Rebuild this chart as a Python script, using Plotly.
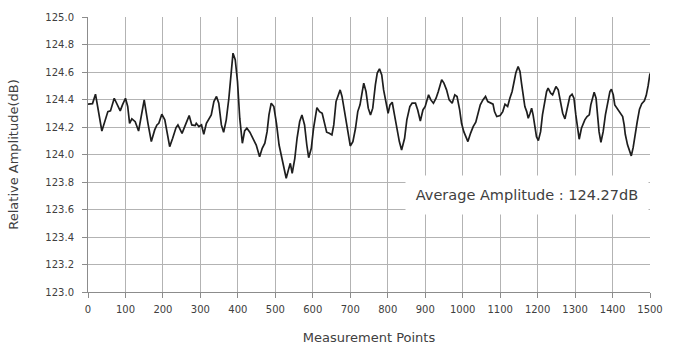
import plotly.graph_objects as go

measurement_points = [
    0, 12, 20, 37, 53, 60, 70, 77, 86, 92, 100, 106, 111, 117, 126, 135, 150, 160, 169, 178,
    184, 189, 197, 205, 218, 226, 235, 240, 251, 260, 270, 277, 286,
    289, 296, 303, 309, 316, 325, 329, 336, 343, 349, 356, 362, 369, 376, 383, 387, 393,
    399, 405, 412, 418, 424, 432, 440, 449, 458, 465, 472, 478, 483, 489, 496, 503, 510,
    516, 522, 529, 536, 540, 545, 552, 558, 565,
    571, 578, 584, 589, 596, 602, 611, 618, 625, 631, 637, 644, 651, 656, 662, 673, 678,
    684, 693, 700, 707, 714, 720, 726, 732, 736, 742, 748, 754, 760, 767, 772, 778, 784,
    789, 796, 801, 806, 812, 818, 825, 831, 837, 845, 851,
    859, 865, 874, 880, 887, 894, 900, 909, 915, 922, 929, 935, 944, 950, 957, 964, 972,
    979, 985, 992, 997, 1003, 1008, 1014, 1021, 1028, 1035, 1041, 1047, 1054, 1061, 1067,
    1074, 1081, 1085, 1091, 1100, 1107, 1113, 1120, 1126, 1132, 1138, 1142,
    1148, 1153, 1157, 1162, 1166, 1171, 1175, 1180, 1184, 1188, 1193, 1197, 1202, 1208,
    1213, 1220, 1224, 1228, 1235, 1240, 1244, 1249, 1255, 1261, 1267, 1273, 1279, 1286,
    1292, 1297, 1302, 1307, 1311, 1317, 1322, 1326, 1332, 1338, 1342, 1347, 1351, 1356,
    1360, 1364, 1369, 1375, 1381, 1387, 1393, 1397, 1402, 1406, 1412, 1420, 1427, 1431,
    1434, 1440, 1446, 1450, 1455, 1460, 1466, 1472, 1478, 1485, 1490, 1495, 1500,
]

relative_amplitude_db = [
    124.366, 124.37, 124.439, 124.171, 124.312, 124.317, 124.409, 124.366, 124.317, 124.361,
    124.409, 124.349, 124.227, 124.259, 124.239, 124.171, 124.397, 124.227, 124.094, 124.179,
    124.215, 124.227, 124.293, 124.252, 124.057, 124.118, 124.196, 124.215, 124.154, 124.215,
    124.283, 124.215, 124.210,
    124.227, 124.203, 124.215, 124.147, 124.227, 124.264, 124.288, 124.385, 124.422, 124.373,
    124.215, 124.162, 124.252, 124.409, 124.604, 124.737, 124.689, 124.531, 124.264, 124.082,
    124.171, 124.191, 124.162, 124.118, 124.069, 123.984, 124.045, 124.082, 124.166, 124.288,
    124.373, 124.349, 124.227, 124.069, 123.997, 123.924, 123.827, 123.899, 123.936, 123.863,
    123.972, 124.118, 124.240,
    124.288, 124.215, 124.069, 123.977, 124.045, 124.191, 124.341, 124.312, 124.300, 124.239,
    124.162, 124.154, 124.142, 124.215, 124.385, 124.470, 124.422, 124.324, 124.166, 124.062,
    124.094, 124.191, 124.312, 124.361, 124.458, 124.519, 124.458, 124.337, 124.288, 124.337,
    124.507, 124.592, 124.623, 124.579, 124.470, 124.361, 124.300, 124.361, 124.380, 124.288,
    124.166, 124.094, 124.033, 124.118, 124.252,
    124.349, 124.373, 124.373, 124.324, 124.244, 124.324, 124.349, 124.434, 124.397, 124.373,
    124.409, 124.458, 124.543, 124.519, 124.470, 124.397, 124.373, 124.434, 124.422, 124.324,
    124.227, 124.166, 124.130, 124.094, 124.154, 124.203, 124.235, 124.300, 124.361, 124.397,
    124.422, 124.385, 124.373, 124.366, 124.312, 124.276, 124.283, 124.312, 124.366, 124.349,
    124.409, 124.458, 124.540, 124.595,
    124.640, 124.604, 124.519, 124.409, 124.349, 124.312, 124.264, 124.300, 124.337, 124.288,
    124.203, 124.130, 124.101, 124.166, 124.288, 124.385, 124.458, 124.482, 124.446, 124.434,
    124.458, 124.494, 124.470, 124.397, 124.300, 124.259, 124.337, 124.422, 124.439, 124.409,
    124.288, 124.191, 124.111, 124.191, 124.227, 124.252, 124.276, 124.288, 124.361, 124.422,
    124.453, 124.409, 124.288, 124.166, 124.089, 124.166, 124.288, 124.385, 124.458, 124.475,
    124.434, 124.361, 124.337, 124.312, 124.276, 124.215, 124.147, 124.07, 124.01, 123.99,
    124.05, 124.15, 124.24, 124.33, 124.37, 124.39, 124.43, 124.50, 124.59,
]

x_tick_values = list(range(0, 1501, 100))
y_tick_values = [123.0, 123.2, 123.4, 123.6, 123.8, 124.0, 124.2, 124.4, 124.6, 124.8, 125.0]
average_label = "Average Amplitude : 124.27dB"

text_color = "#404040"
grid_color = "#b3b3b3"

fig = go.Figure()
fig.add_trace(go.Scatter(
    x=measurement_points,
    y=relative_amplitude_db,
    mode="lines",
    line=dict(color="#1e1e1e", width=1.7),
    showlegend=False,
    hoverinfo="skip",
))

fig.add_annotation(
    x=1172, y=123.705, xref="x", yref="y",
    text=average_label,
    showarrow=False,
    bgcolor="white",
    width=240, height=36,
    align="center",
    font=dict(family="DejaVu Sans", size=14.5, color=text_color),
)

fig.update_layout(
    width=681, height=345,
    margin=dict(l=88, r=31, t=17, b=53, autoexpand=False),
    paper_bgcolor="white",
    plot_bgcolor="white",
    font=dict(family="DejaVu Sans", size=10, color=text_color),
)

fig.update_xaxes(
    range=[0, 1500],
    automargin=False,
    tickvals=x_tick_values,
    ticktext=[str(v) for v in x_tick_values],
    showgrid=True, gridcolor=grid_color, gridwidth=1,
    showline=True, linecolor="#8c8c8c", linewidth=1,
    ticks="outside", ticklen=5, tickcolor="#8c8c8c",
    tickfont=dict(family="DejaVu Sans", size=10, color=text_color),
    ticklabelstandoff=3,
    zeroline=False,
    title=dict(text="Measurement Points", standoff=24,
               font=dict(family="DejaVu Sans", size=13, color=text_color)),
)

fig.update_yaxes(
    range=[123.0, 125.0],
    automargin=False,
    tickvals=y_tick_values,
    ticktext=[f"{v:.1f}" for v in y_tick_values],
    showgrid=True, gridcolor=grid_color, gridwidth=1,
    showline=True, linecolor="#8c8c8c", linewidth=1,
    ticks="outside", ticklen=5, tickcolor="#8c8c8c",
    tickfont=dict(family="DejaVu Sans", size=10, color=text_color),
    ticklabelstandoff=6,
    zeroline=False,
    title=dict(text="Relative Amplitude(dB)", standoff=23,
               font=dict(family="DejaVu Sans", size=13, color=text_color)),
)

fig.write_html("out.html")
